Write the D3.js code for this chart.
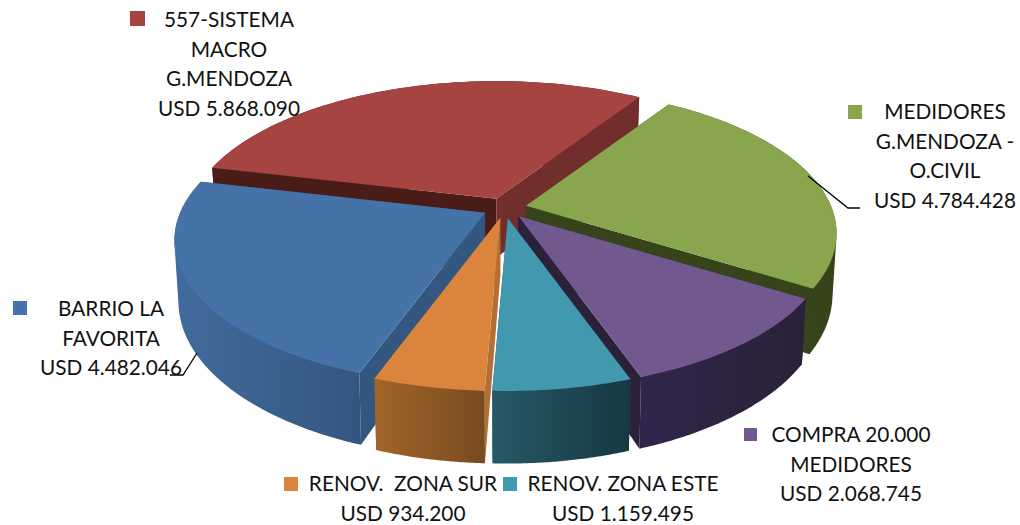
<!DOCTYPE html>
<html>
<head>
<meta charset="utf-8">
<script src="https://cdn.jsdelivr.net/npm/d3@7"></script>
<style>
  html, body { margin: 0; padding: 0; background: #fff; }
  svg { display: block; }
  text { font-family: Lato, "Open Sans", sans-serif; font-size: 20.8px; fill: #111; }
</style>
</head>
<body>
<div id="chart"></div>
<script>
const width = 1020;
const height = 525;

// drawing order is the pie order, clockwise from the red slice
const categories = ['557-SISTEMA MACRO G.MENDOZA', 'MEDIDORES G.MENDOZA - O.CIVIL', 'COMPRA 20.000 MEDIDORES', 'RENOV. ZONA ESTE', 'RENOV. ZONA SUR', 'BARRIO LA FAVORITA'];
const values = [5868090, 4784428, 2068745, 1159495, 934200, 4482046];
const valueLabels = ['USD 5.868.090', 'USD 4.784.428', 'USD 2.068.745', 'USD 1.159.495', 'USD 934.200', 'USD 4.482.046'];
const labelLines = [
  ['557-SISTEMA', 'MACRO', 'G.MENDOZA'],
  ['MEDIDORES', 'G.MENDOZA -', 'O.CIVIL'],
  ['COMPRA 20.000', 'MEDIDORES'],
  ['RENOV. ZONA ESTE'],
  ['RENOV.  ZONA SUR'],
  ['BARRIO LA', 'FAVORITA']
];

// colours per slice
const topColors = ['#A54441', '#89A54E', '#71588F', '#4198AF', '#DB843D', '#4572A7'];
const startWallColors = ['#4A1C18', '#37431A', '#2B2239', '#1d4650', '#B47033', '#345780'];
const endWallColors = ['#722E2D', '#37431A', '#2B2239', '#1d4650', '#a8682d', '#2f5078'];
const outerFrom = ['#5c2625', '#3E4E1E', '#30264A', '#265966', '#A26429', '#416B9C'];
const outerTo = ['#5c2625', '#364319', '#2A2138', '#173842', '#784B21', '#33567F'];

// where each label block sits: swatch x/y, text centre x, first line centre y
const labelPos = [
  { sx: 130, sy: 11, sw: 15, cx: 229, y: 20 },
  { sx: 848, sy: 105, sw: 14, cx: 945, y: 112 },
  { sx: 744, sy: 428, sw: 13, cx: 851, y: 435 },
  { sx: 503, sy: 477, sw: 14, cx: 623, y: 484 },
  { sx: 284, sy: 477, sw: 14, cx: 403, y: 484 },
  { sx: 13, sy: 301, sw: 14, cx: 111, y: 309 }
];
const leaders = [
  [[808, 176], [848, 208], [860, 208]],
  [[197, 353], [183, 375], [170, 375]]
];

// pie geometry, fitted to the perspective of the 3D chart
const CENTER_X = 504.5;
const CENTER_Y = 208;
const PERSPECTIVE = 0.19;
const EXPLODE = 0.072;
const DEPTH = 59;
const topPlane = { rx: 305, ry: 140 };
const bottomPlane = { rx: 301, ry: 151 };
const ROTATION = -76.6;

const pie = d3.pie()
  .sort(null)
  .startAngle(ROTATION * Math.PI / 180)
  .endAngle((ROTATION + 360) * Math.PI / 180);

// unit disc angle -> offset on the screen, front of the disc gets bigger
const project = (angle, r, plane) => {
  const X = r * Math.sin(angle);
  const Y = -r * Math.cos(angle);
  const s = 1 / (1 - PERSPECTIVE * Y);
  return [plane.rx * X * s, plane.ry * Y * s];
};

const svg = d3.select('#chart')
  .append('svg')
  .attr('width', width)
  .attr('height', height);

const defs = svg.append('defs');
const line = d3.line();

const slices = pie(values).map((d) => {
  const mid = (d.startAngle + d.endAngle) / 2;
  const shift = project(mid, EXPLODE, topPlane);
  const apex = [CENTER_X + shift[0], CENTER_Y + shift[1]];
  const apexLow = [apex[0], apex[1] + DEPTH];
  const steps = d3.range(0, 61).map((i) => d.startAngle + (d.endAngle - d.startAngle) * i / 60);
  const rimTop = steps.map((a) => {
    const p = project(a, 1, topPlane);
    return [apex[0] + p[0], apex[1] + p[1]];
  });
  const rimLow = steps.map((a) => {
    const p = project(a, 1, bottomPlane);
    return [apexLow[0] + p[0], apexLow[1] + p[1]];
  });
  return { apex, apexLow, rimTop, rimLow, startAngle: d.startAngle, endAngle: d.endAngle };
});

// back to front
const order = [0, 1, 5, 2, 3, 4];
order.forEach((i) => {
  const s = slices[i];
  const g = svg.append('g').attr('class', 'slice');
  const xs = s.rimLow.map((p) => p[0]);
  const last = s.rimTop.length - 1;

  defs.append('linearGradient')
    .attr('id', `outer-${i}`)
    .attr('gradientUnits', 'userSpaceOnUse')
    .attr('x1', d3.min(xs))
    .attr('x2', d3.max(xs))
    .attr('y1', 0)
    .attr('y2', 0)
    .call((lg) => {
      lg.append('stop').attr('offset', 0).attr('stop-color', outerFrom[i]);
      lg.append('stop').attr('offset', 1).attr('stop-color', outerTo[i]);
    });

  const startWall = line([s.apex, s.rimTop[0], s.rimLow[0], s.apexLow]) + 'Z';
  const endWall = line([s.apex, s.rimTop[last], s.rimLow[last], s.apexLow]) + 'Z';
  const startFacesFront = Math.sin(s.startAngle) < 0;
  const endFacesFront = Math.sin(s.endAngle) > 0;

  // walls turned away from the viewer go under the outer wall
  if (!startFacesFront) g.append('path').attr('d', startWall).attr('fill', startWallColors[i]);
  if (!endFacesFront) g.append('path').attr('d', endWall).attr('fill', endWallColors[i]);

  // hull of both rims, so the side silhouette runs straight from top to bottom
  g.append('path')
    .attr('d', line(d3.polygonHull(s.rimTop.concat(s.rimLow))) + 'Z')
    .attr('fill', `url(#outer-${i})`);

  if (startFacesFront) g.append('path').attr('d', startWall).attr('fill', startWallColors[i]);
  if (endFacesFront) g.append('path').attr('d', endWall).attr('fill', endWallColors[i]);

  g.append('path')
    .attr('d', line([s.apex].concat(s.rimTop)) + 'Z')
    .attr('fill', topColors[i]);
});

leaders.forEach((pts) => {
  svg.append('path')
    .attr('d', line(pts))
    .attr('fill', 'none')
    .attr('stroke', '#000')
    .attr('stroke-width', 1.3);
});

const LINE_HEIGHT = 29.5;
const legend = svg.selectAll('g.label')
  .data(categories)
  .enter().append('g')
    .attr('class', 'label');

legend.append('rect')
  .attr('x', (d, i) => labelPos[i].sx)
  .attr('y', (d, i) => labelPos[i].sy)
  .attr('width', (d, i) => labelPos[i].sw)
  .attr('height', (d, i) => labelPos[i].sw)
  .attr('fill', (d, i) => topColors[i]);

legend.append('text')
  .attr('text-anchor', 'middle')
  .attr('xml:space', 'preserve')
  .style('white-space', 'pre')
  .selectAll('tspan')
  .data((d, i) => labelLines[i].concat([valueLabels[i]]).map((t, n) => ({ t, n, i })))
  .enter().append('tspan')
    .attr('x', (d) => labelPos[d.i].cx)
    .attr('y', (d) => labelPos[d.i].y + d.n * LINE_HEIGHT + 7)
    .text((d) => d.t);
</script>
</body>
</html>
